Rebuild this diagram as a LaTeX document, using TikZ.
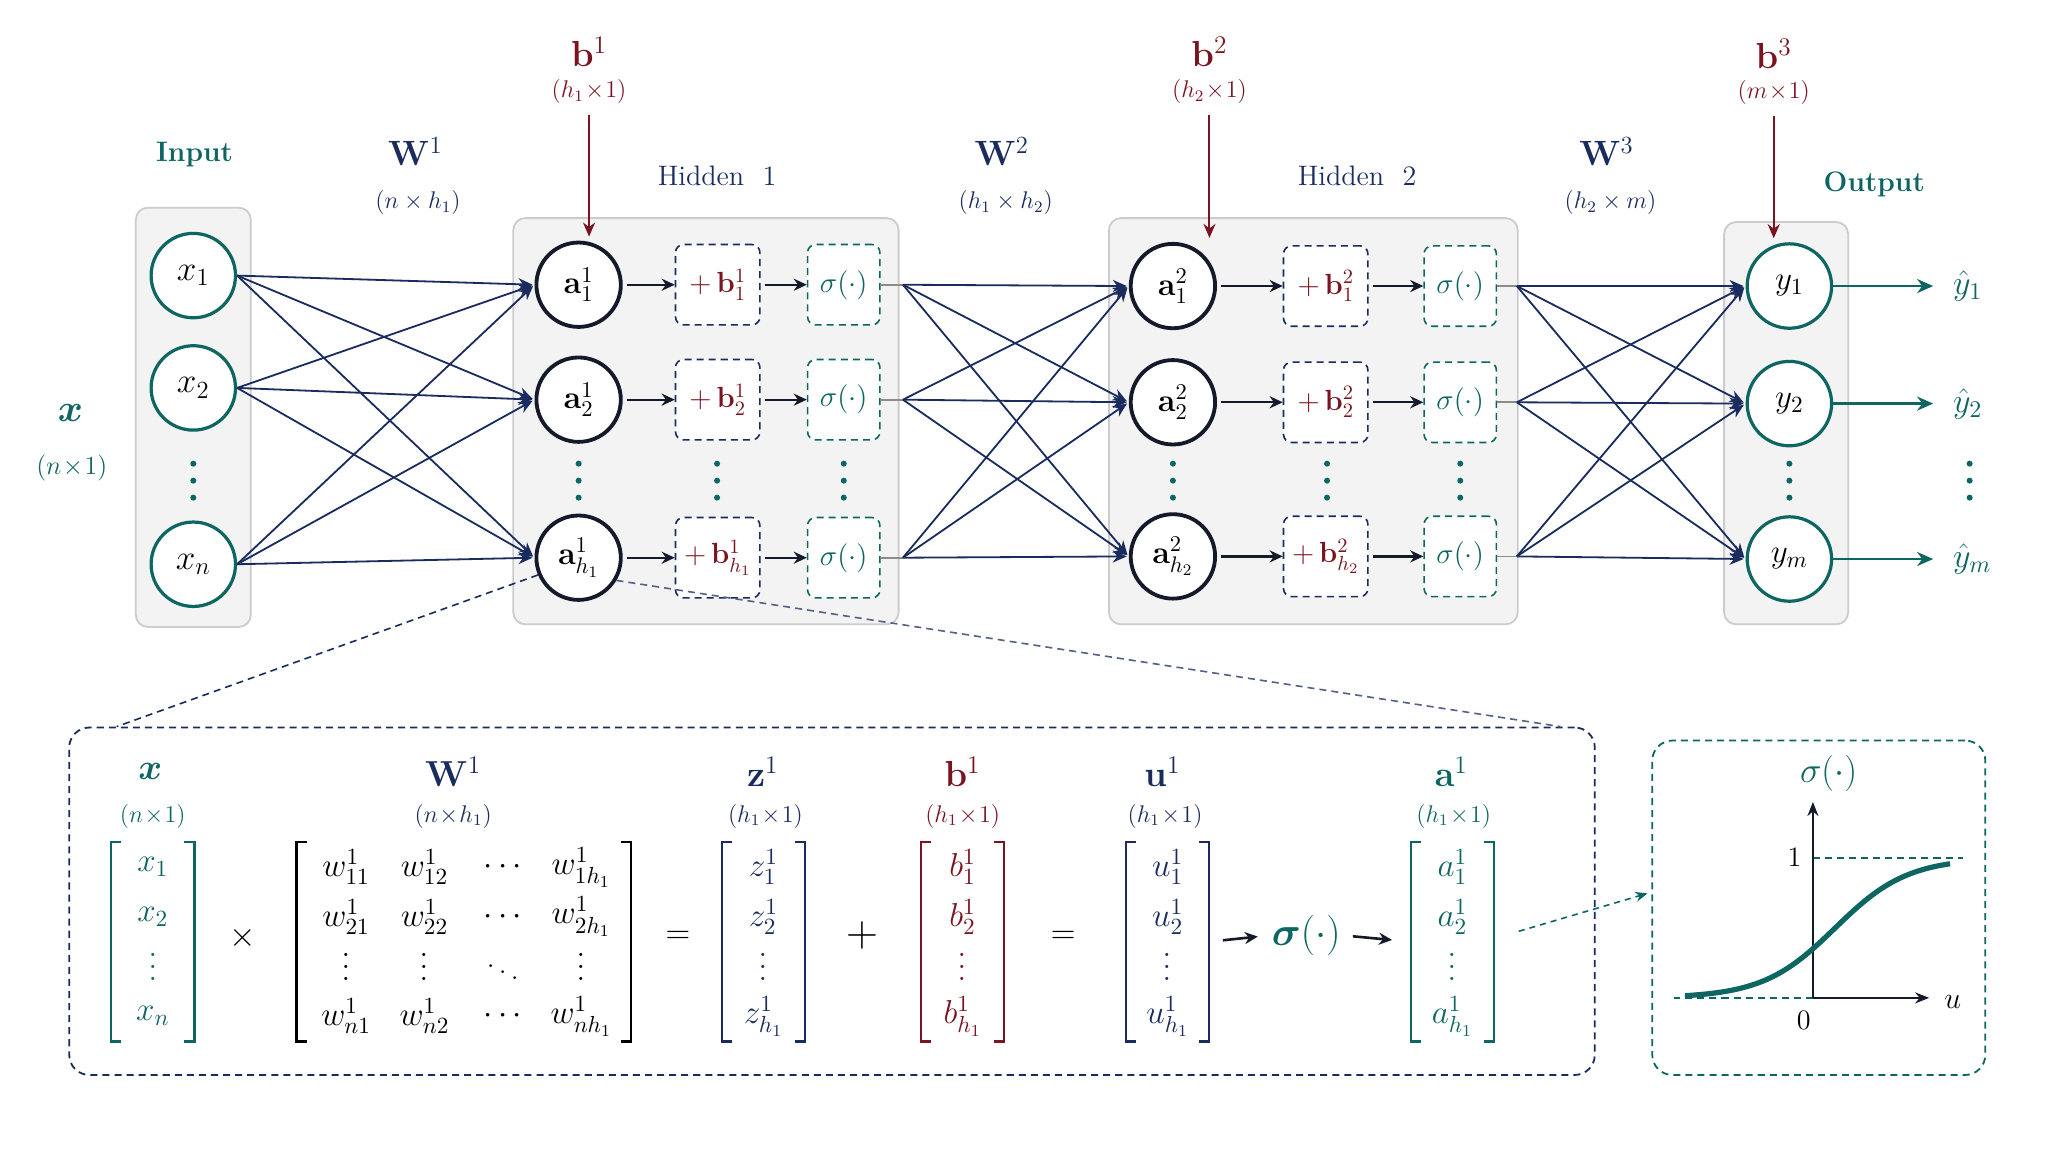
\RequirePackage{fix-cm}
\documentclass[tikz,border=0pt]{standalone}
\usepackage{amsmath,amssymb,bm}
\usetikzlibrary{arrows.meta,positioning,fit,calc,matrix}

\definecolor{navyc}{RGB}{26,44,94}
\definecolor{tealc}{RGB}{14,102,98}
\definecolor{redc}{RGB}{122,20,32}
\definecolor{inkc}{RGB}{20,26,42}
\definecolor{panelc}{RGB}{243,243,244}
\definecolor{rimc}{RGB}{204,204,206}

\newcommand{\fsz}[1]{\fontsize{#1}{#1}\selectfont}
\newcommand{\vdotsw}{\vbox{\baselineskip6pt\lineskiplimit0pt
  \hbox{\fsz{19}.}\hbox{\fsz{19}.}\hbox{\fsz{19}.}}}
% three round dots standing for the rows left out
\newcommand{\colddots}[2]{\foreach \dy in {-13,0,13} \fill[#2] ($#1+(0,\dy)$) circle (1.5pt);}
% square brackets round a matrix node
\newcommand{\brackets}[2]{%
  \draw[brkline, draw=#2] ([xshift=5pt]#1.north west) -| (#1.south west) -- ++(5pt,0);
  \draw[brkline, draw=#2] ([xshift=-5pt]#1.north east) -| (#1.south east) -- ++(-5pt,0);}

\tikzset{
  layerbox/.style={rectangle, rounded corners=6pt, draw=rimc, line width=0.9pt,
                   fill=panelc, inner sep=0pt},
  innode/.style={circle, draw=tealc, line width=1.6pt, fill=white,
                 minimum size=42pt, inner sep=0pt, font=\fsz{17.5}},
  hidnode/.style={innode, draw=inkc, line width=1.9pt, font=\fsz{16}},
  biasbox/.style={rectangle, rounded corners=4pt, draw=navyc, line width=0.8pt,
                  dash pattern=on 3.5pt off 2.5pt, fill=white, minimum width=42pt,
                  minimum height=40pt, inner sep=0pt, text=redc, font=\fsz{14.5}},
  sigbox/.style={biasbox, draw=tealc, minimum width=36pt, text=tealc, font=\fsz{14.5}},
  wedge/.style={-{Stealth[length=7pt, width=6pt]}, line width=0.9pt, draw=navyc,
                shorten >=1pt},
  rowarrow/.style={-{Stealth[length=6.5pt, width=6pt]}, line width=1.1pt, draw=inkc,
                   shorten <=2pt},
  stub/.style={line width=0.9pt, draw=black!45},
  biasarrow/.style={-{Stealth[length=7pt, width=6pt]}, line width=1pt, draw=redc,
                    shorten <=2pt, shorten >=2pt},
  outarrow/.style={-{Stealth[length=8pt, width=7pt]}, line width=1.2pt, draw=tealc,
                   shorten >=9.7pt},
  brkline/.style={line width=1.1pt},
}

\begin{document}
\begin{tikzpicture}[x=0.65pt, y=-0.65pt,
    layerlab/.style={font=\fsz{14}\bfseries, text=tealc},
    hidlab/.style={font=\fsz{14}, text=navyc},
    wlab/.style={font=\fsz{17.5}, text=navyc},
    wdim/.style={font=\fsz{12}, text=navyc},
    blab/.style={font=\fsz{18}, text=redc},
    bdim/.style={font=\fsz{12}, text=redc},
    yhat/.style={anchor=west, inner sep=0pt, font=\fsz{17}, text=tealc},
    veclab/.style={font=\fsz{18}},
    vecdim/.style={font=\fsz{12}},
    opnode/.style={font=\fsz{17}},
    vecmat/.style={matrix of math nodes, inner sep=0pt, minimum width=41pt,
                   minimum height=99pt, row sep=0pt, column sep=0pt,
                   nodes={anchor=center, inner sep=0pt, minimum width=0pt,
                          minimum height=24.7pt, font=\fsz{16.5}}},
    zoombox/.style={rectangle, rounded corners=10pt, draw=navyc, line width=0.9pt,
                    dash pattern=on 3.5pt off 2.5pt, inner sep=0pt},
    zoomline/.style={draw=navyc, line width=0.8pt, dash pattern=on 3.5pt off 2.5pt},
    zoomarrow/.style={-{Stealth[length=6pt, width=5pt]}, draw=tealc, line width=0.8pt,
                      dash pattern=on 3pt off 2.5pt},
    axisarrow/.style={-{Stealth[length=7pt, width=5.5pt]}, line width=0.9pt, draw=inkc},
    sigdash/.style={draw=tealc, line width=0.8pt, dash pattern=on 3.5pt off 2.5pt},
    sigcurve/.style={draw=tealc, line width=2.6pt},
  ]
  \fill[white] (0,0) rectangle (1568,882);
  \useasboundingbox (0,0) rectangle (1568,882);

  % layer panels
  \node[layerbox, fit={(104,159) (192,480)}]   (inbox)  {};
  \node[layerbox, fit={(393,167) (688,478)}]   (hbox1)  {};
  \node[layerbox, fit={(849,167) (1162,478)}]  (hbox2)  {};
  \node[layerbox, fit={(1320,170) (1415,478)}] (outbox) {};

  % headings
  \node[layerlab] (inlab)  at (149,118)  {Input};
  \node[layerlab] (outlab) at (1435,141) {Output};
  \node[hidlab]   (h1lab)  at (549,135)  {Hidden\ \ 1};
  \node[hidlab]   (h2lab)  at (1039,135) {Hidden\ \ 2};
  \node[font=\fsz{19}, text=tealc] (xbig)  at (54,316) {$\bm{x}$};
  \node[font=\fsz{13}, text=tealc] (xbigd) at (55,358) {$(n\!\times\!1)$};
  \node[wlab] (W1) at (318,116)  {$\mathbf{W}^1$};
  \node[wdim] (W1d) at (320,155) {$(n\times h_1)$};
  \node[wlab] (W2) at (767,116)  {$\mathbf{W}^2$};
  \node[wdim] (W2d) at (770,155) {$(h_1\times h_2)$};
  \node[wlab] (W3) at (1230,116) {$\mathbf{W}^3$};
  \node[wdim] (W3d) at (1233,155) {$(h_2\times m)$};
  \node[blab] (b1) at (451,40)   {$\mathbf{b}^1$};
  \node[bdim] (b1d) at (451,70)  {$(h_1\!\times\!1)$};
  \node[blab] (b2) at (926,40)   {$\mathbf{b}^2$};
  \node[bdim] (b2d) at (926,70)  {$(h_2\!\times\!1)$};
  \node[blab] (b3) at (1358,41)  {$\mathbf{b}^3$};
  \node[bdim] (b3d) at (1358,71) {$(m\!\times\!1)$};

  % input layer
  \foreach \i/\yy in {1/211, 2/297, n/432}
    \node[innode] (x\i) at (148,\yy) {$x_{\i}$};

  % hidden layer 1
  \foreach \i/\yy/\sb in {1/218/1, 2/306/2, h/427/h_1} {
    \node[hidnode] (a1\i) at (443,\yy)   {$\mathbf{a}^1_{\sb}$};
    \node[biasbox] (p1\i) at (549.5,\yy) {$+\,\mathbf{b}^1_{\sb}$};
    \node[sigbox]  (s1\i) at (646,\yy)   {$\sigma(\cdot)$};
    \draw[rowarrow] (a1\i) -- (p1\i);
    \draw[rowarrow] (p1\i) -- (s1\i);
    \coordinate (f1\i) at ($(s1\i.east)+(17,0)$);
    \draw[stub] (s1\i.east) -- (f1\i);
  }

  % hidden layer 2
  \foreach \i/\yy/\sb in {1/219/1, 2/308/2, h/426/h_2} {
    \node[hidnode] (a2\i) at (898,\yy)  {$\mathbf{a}^2_{\sb}$};
    \node[biasbox] (p2\i) at (1015,\yy) {$+\,\mathbf{b}^2_{\sb}$};
    \node[sigbox]  (s2\i) at (1118,\yy) {$\sigma(\cdot)$};
    \draw[rowarrow] (a2\i) -- (p2\i);
    \draw[rowarrow] (p2\i) -- (s2\i);
    \coordinate (f2\i) at ($(s2\i.east)+(15,0)$);
    \draw[stub] (s2\i.east) -- (f2\i);
  }

  % output layer
  \foreach \i/\yy in {1/219, 2/309, m/428} {
    \node[innode, font=\fsz{16.5}] (y\i) at (1370,\yy) {$y_{\i}$};
    \node[yhat] (yh\i) at (1495,\yy) {$\hat{y}_{\i}$};
    \draw[outarrow] (y\i) -- (yh\i.west);
  }

  % weights
  \foreach \i in {1,2,n} \foreach \j in {1,2,h}
    \draw[wedge] (x\i.east) -- (a1\j.west);
  \foreach \i in {1,2,h} \foreach \j in {1,2,h}
    \draw[wedge] (f1\i) -- (a2\j.west);
  \foreach \i in {1,2,h} \foreach \j in {1,2,m}
    \draw[wedge] (f2\i) -- (y\j.west);

  % biases
  \draw[biasarrow] (b1d.south) -- (b1d.south |- a11.north);
  \draw[biasarrow] (b2d.south) -- (b2d.south |- a21.north);
  \draw[biasarrow] (b3d.south) -- (b3d.south |- y1.north);

  \foreach \xx in {148,443,549,646,898,1016,1118,1370,1508}
    \colddots{(\xx,368)}{tealc};

  % zoom on one neuron
  \node[zoombox, fit={(53,557) (1221,823)}] (zbox) {};
  \draw[zoomline] (a1h.203) -- ($(zbox.north west)+(37,0)$);
  \draw[zoomline, draw=navyc!75] (a1h.329) -- ($(zbox.north east)+(-27,0)$);

  \node[veclab, text=tealc] (xl) at (115,591) {$\bm{x}$};
  \node[vecdim, text=tealc] (xd) at (117,625) {$(n\!\times\!1)$};
  \node[veclab, text=navyc] (Wl) at (347,591) {$\mathbf{W}^1$};
  \node[vecdim, text=navyc] (Wd) at (347,625) {$(n\!\times\!h_1)$};
  \node[veclab, text=navyc] (zl) at (584,591) {$\mathbf{z}^1$};
  \node[vecdim, text=navyc] (zd) at (586,625) {$(h_1\!\times\!1)$};
  \node[veclab, text=redc]  (bl) at (737,591) {$\mathbf{b}^1$};
  \node[vecdim, text=redc]  (bd) at (737,625) {$(h_1\!\times\!1)$};
  \node[veclab, text=navyc] (ul) at (890,591) {$\mathbf{u}^1$};
  \node[vecdim, text=navyc] (ud) at (892,625) {$(h_1\!\times\!1)$};
  \node[veclab, text=tealc] (al) at (1111,591) {$\mathbf{a}^1$};
  \node[vecdim, text=tealc] (ad) at (1113,625) {$(h_1\!\times\!1)$};

  \matrix (xv) [vecmat, nodes={text=tealc}] at (117,721)
    {x_1\\ x_2\\ \vdotsw\\ x_n\\};
  \matrix (Wm) [vecmat, minimum width=166pt, nodes={minimum width=39pt}] at (355,721)
    {w^1_{11} & w^1_{12} & \cdots & w^1_{1h_1}\\
     w^1_{21} & w^1_{22} & \cdots & w^1_{2h_1}\\
     \vdotsw  & \vdotsw  & \ddots & \vdotsw\\
     w^1_{n1} & w^1_{n2} & \cdots & w^1_{nh_1}\\};
  \matrix (zv) [vecmat, nodes={text=navyc}] at (584.5,721)
    {z^1_1\\ z^1_2\\ \vdotsw\\ z^1_{h_1}\\};
  \matrix (bv) [vecmat, nodes={text=redc}] at (737,721)
    {b^1_1\\ b^1_2\\ \vdotsw\\ b^1_{h_1}\\};
  \matrix (uv) [vecmat, nodes={text=navyc}] at (894,721)
    {u^1_1\\ u^1_2\\ \vdotsw\\ u^1_{h_1}\\};
  \matrix (av) [vecmat, nodes={text=tealc}] at (1112,721)
    {a^1_1\\ a^1_2\\ \vdotsw\\ a^1_{h_1}\\};
  \brackets{xv}{tealc}
  \brackets{Wm}{black}
  \brackets{zv}{navyc}
  \brackets{bv}{redc}
  \brackets{uv}{navyc}
  \brackets{av}{tealc}

  \node[opnode] (times) at (186,718) {$\times$};
  \node[opnode] (eq1)   at (519,718) {$=$};
  \node[font=\fsz{22}] (plus) at (660,716) {$+$};
  \node[opnode] (eq2)   at (814,718) {$=$};
  \node[font=\fsz{20}, text=tealc, inner sep=0pt] (sigc) at (1000,716) {$\bm{\sigma}(\cdot)$};
  \draw[rowarrow, line width=1.3pt, shorten <=6.8pt, shorten >=6.8pt] (uv.east) -- (sigc.west);
  \draw[rowarrow, line width=1.3pt, shorten <=6pt, shorten >=9.4pt] (sigc.east) -- (av.west);

  % activation panel
  \node[zoombox, draw=tealc, fit={(1265,567) (1520,823)}] (spanel) {};
  \draw[zoomarrow] ($(av.east)+(19,-8)$) -- ($(spanel.west)+(-3,-11)$);
  \node[font=\fsz{18}, text=tealc] (sigt) at (1400,592) {$\sigma(\cdot)$};
  \coordinate (org) at (1388,764);
  \draw[sigdash] (org) -- ++(-106,0);
  \draw[sigdash] ($(org)+(0,-107)$) -- ++(115,0);
  \draw[axisarrow] (org) -- ++(0,-150);
  \draw[axisarrow] (org) -- ++(89,0);
  \draw[sigcurve] plot[domain=-98:105, samples=60, smooth]
    ({1388+\x}, {764-107/(1+exp(-0.036*(\x-17)))});
  \node[font=\fsz{14}] (one)  at (1374,656) {1};
  \node[font=\fsz{14}] (zero) at (1381,781) {0};
  \node[font=\fsz{15}] (ulab) at (1495,767) {$u$};
\end{tikzpicture}
\end{document}
